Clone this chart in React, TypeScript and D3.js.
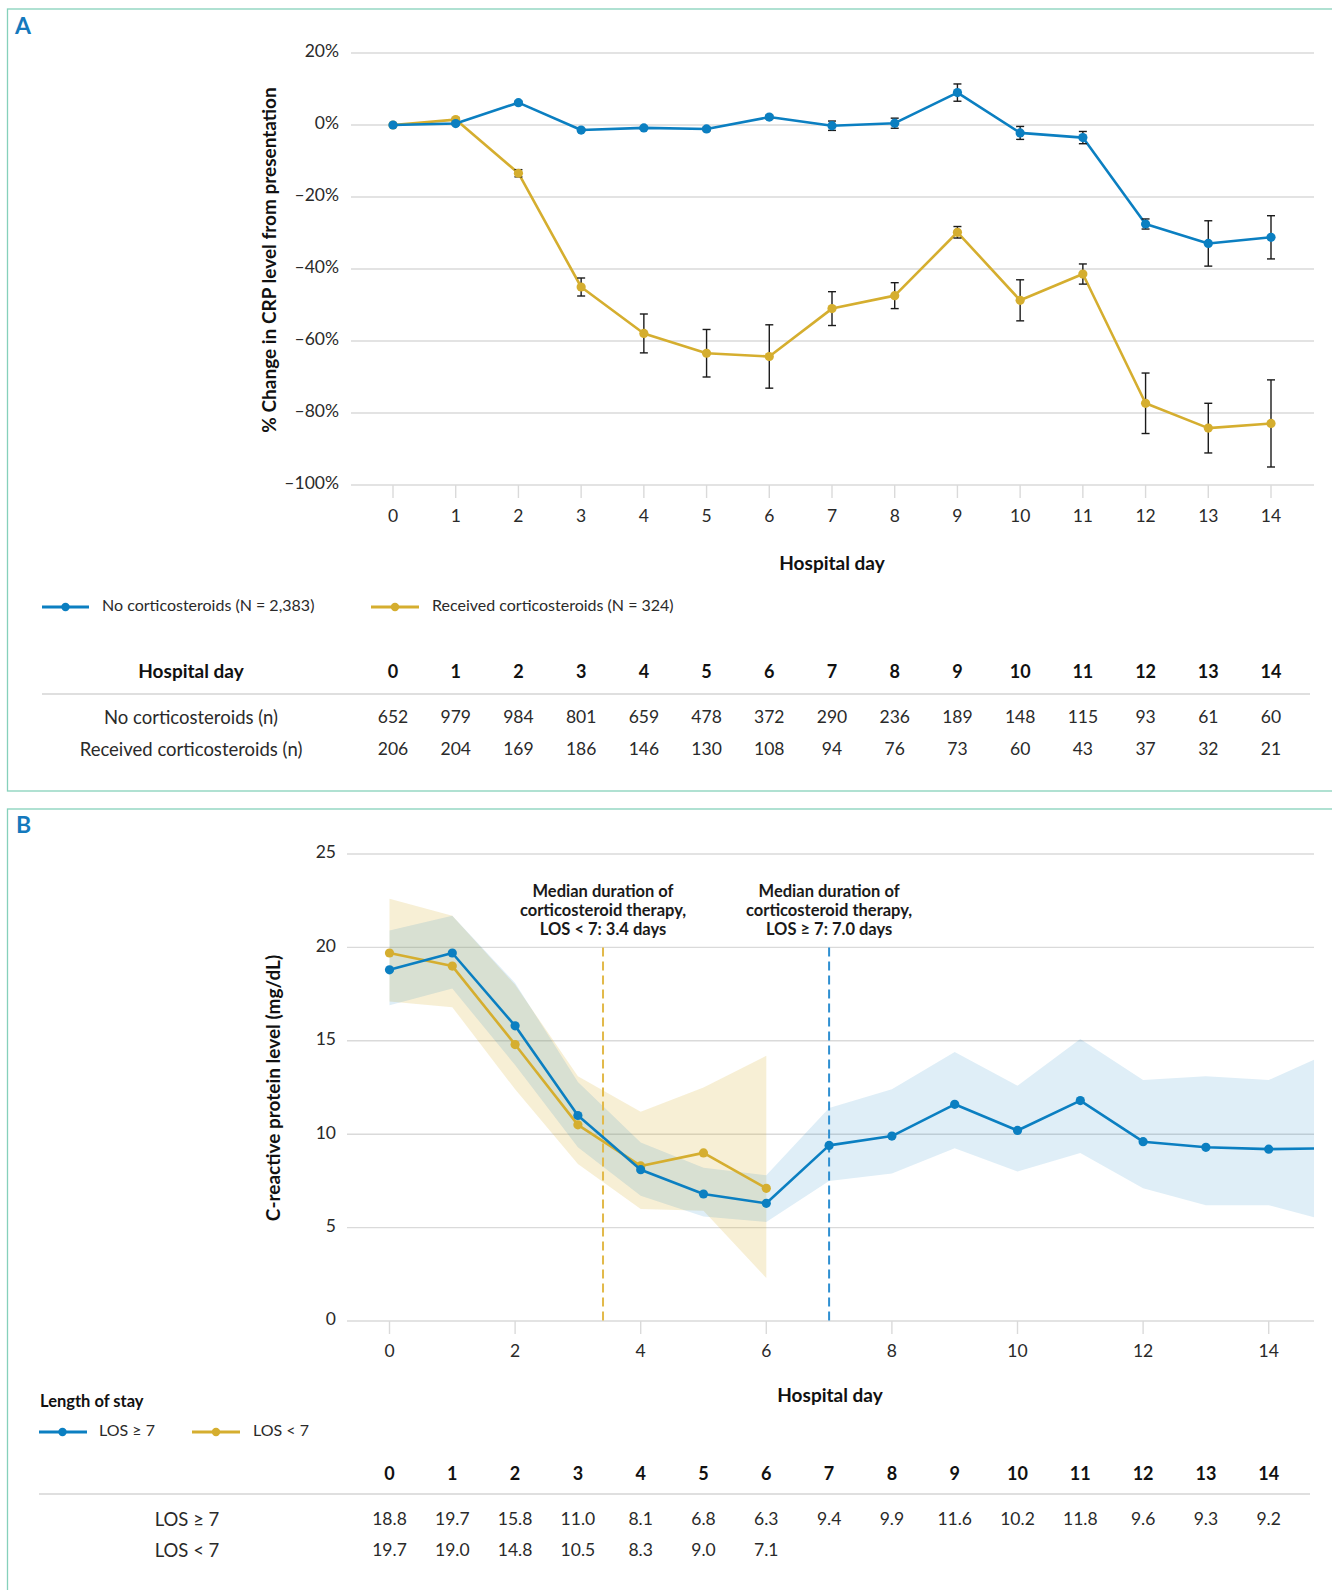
import * as d3 from "d3";

// ---- Panel A: % change in CRP from presentation ----
const DAYS = [0, 1, 2, 3, 4, 5, 6, 7, 8, 9, 10, 11, 12, 13, 14];
const PCT_TICKS = [20, 0, -20, -40, -60, -80, -100];

const noSteroidPct = [0, 0.4, 6.2, -1.4, -0.8, -1.1, 2.2, -0.2, 0.5, 9.0, -2.2, -3.5, -27.5, -32.9, -31.2];
const noSteroidErr = [0.3, 0.3, 0.4, 0.4, 0.4, 0.5, 0.5, 1.3, 1.4, 2.4, 1.8, 1.7, 1.4, 6.3, 6.0];
const steroidPct = [0, 1.5, -13.4, -45.0, -57.9, -63.4, -64.3, -51.0, -47.4, -29.8, -48.7, -41.4, -77.3, -84.2, -82.9];
const steroidErr = [0.3, 0.4, 1.0, 2.5, 5.4, 6.6, 8.8, 4.7, 3.6, 1.6, 5.7, 2.8, 8.4, 6.9, 12.1];

const noSteroidN = [652, 979, 984, 801, 659, 478, 372, 290, 236, 189, 148, 115, 93, 61, 60];
const steroidN = [206, 204, 169, 186, 146, 130, 108, 94, 76, 73, 60, 43, 37, 32, 21];

// ---- Panel B: CRP level by length of stay ----
const CRP_TICKS = [0, 5, 10, 15, 20, 25];
const DAY_TICKS_B = [0, 2, 4, 6, 8, 10, 12, 14];
const DAYS_LONG = [0, 1, 2, 3, 4, 5, 6, 7, 8, 9, 10, 11, 12, 13, 14, 15];
const DAYS_SHORT = [0, 1, 2, 3, 4, 5, 6];

const losLong = [18.8, 19.7, 15.8, 11.0, 8.1, 6.8, 6.3, 9.4, 9.9, 11.6, 10.2, 11.8, 9.6, 9.3, 9.2, 9.25];
const losLongLo = [16.9, 17.8, 13.7, 9.3, 6.7, 5.6, 5.3, 7.5, 7.9, 9.25, 8.0, 9.0, 7.1, 6.2, 6.2, 5.3];
const losLongHi = [20.9, 21.7, 18.1, 12.8, 9.55, 8.2, 7.8, 11.4, 12.4, 14.4, 12.6, 15.1, 12.9, 13.1, 12.9, 14.4];
const losShort = [19.7, 19.0, 14.8, 10.5, 8.3, 9.0, 7.1];
const losShortLo = [17.1, 16.8, 12.4, 8.4, 6.0, 5.9, 2.3];
const losShortHi = [22.6, 21.7, 18.0, 13.1, 11.2, 12.5, 14.2];

const losLongTable = ["18.8", "19.7", "15.8", "11.0", "8.1", "6.8", "6.3", "9.4", "9.9", "11.6", "10.2", "11.8", "9.6", "9.3", "9.2"];
const losShortTable = ["19.7", "19.0", "14.8", "10.5", "8.3", "9.0", "7.1"];

const medianShort = 3.4;
const medianLong = 7.0;

const BLUE = "#0b7fc1";
const GOLD = "#d5ae2f";
const GRID = "#dadada";
const FRAME = "#86d1bb";
const TEXT = "#2a2a2a";
const FONT = "Lato, 'Open Sans', sans-serif";

const REG = 400;
const FS = 17.5; // regular labels
const FS_TITLE = 19; // bold axis titles / headers

type Pt = { d: number; v: number };

export default function App() {
  // panel A scales
  const xA = d3.scaleLinear().domain([0, 14]).range([393, 1271]);
  const yA = d3.scaleLinear().domain([-100, 20]).range([485, 53]);
  const gridLeftA = 351;
  const gridRight = 1314;

  // panel B scales
  const xB = d3.scaleLinear().domain([0, 14]).range([389.5, 1268.7]);
  const yB = d3.scaleLinear().domain([0, 25]).range([1321, 854]);
  const gridLeftB = 347;

  const lineA = d3
    .line<Pt>()
    .x((p) => xA(p.d))
    .y((p) => yA(p.v));
  const lineB = d3
    .line<Pt>()
    .x((p) => xB(p.d))
    .y((p) => yB(p.v));
  const areaB = d3
    .area<{ d: number; lo: number; hi: number }>()
    .x((p) => xB(p.d))
    .y0((p) => yB(p.lo))
    .y1((p) => yB(p.hi));

  const seriesA = [
    { name: "steroid", color: GOLD, vals: steroidPct, err: steroidErr },
    { name: "none", color: BLUE, vals: noSteroidPct, err: noSteroidErr },
  ];

  const fmtPct = (v: number) => (v < 0 ? `\u2013${Math.abs(v)}%` : `${v}%`);

  const shortPts = DAYS_SHORT.map((d, i) => ({ d, v: losShort[i] }));
  const longPts = DAYS_LONG.map((d, i) => ({ d, v: losLong[i] }));
  const shortBand = DAYS_SHORT.map((d, i) => ({ d, lo: losShortLo[i], hi: losShortHi[i] }));
  const longBand = DAYS_LONG.map((d, i) => ({ d, lo: losLongLo[i], hi: losLongHi[i] }));

  const annotations = [
    { day: medianShort, color: "#e2b94a", lines: ["Median duration of", "corticosteroid therapy,", "LOS < 7: 3.4 days"] },
    { day: medianLong, color: "#2e8fd1", lines: ["Median duration of", "corticosteroid therapy,", "LOS \u2265 7: 7.0 days"] },
  ];

  return (
    <svg
      width={1332}
      height={1590}
      style={{ position: "absolute", left: 0, top: 0, display: "block", background: "#fff" }}
      fontFamily={FONT}
    >
      <defs>
        <clipPath id="plotB">
          <rect x={gridLeftB} y={800} width={gridRight - gridLeftB} height={560} />
        </clipPath>
      </defs>

      {/* Panel frames */}
      <rect x={7.5} y={9} width={1340} height={782} fill="none" stroke={FRAME} strokeWidth={1.3} />
      <rect x={7.5} y={809} width={1340} height={800} fill="none" stroke={FRAME} strokeWidth={1.3} />

      {/* ================= Panel A ================= */}
      <text x={15} y={34} fontSize={23} fontWeight={700} fill="#1479bd">A</text>

      {PCT_TICKS.map((t) => (
        <g key={t}>
          <line x1={gridLeftA} x2={gridRight} y1={yA(t)} y2={yA(t)} stroke={GRID} strokeWidth={1.4} />
          <text
            x={339}
            y={yA(t)}
            textAnchor="end"
            dominantBaseline="middle"
            fontSize={FS}
            fontWeight={REG}
            fill={TEXT}
          >
            {fmtPct(t)}
          </text>
        </g>
      ))}

      {DAYS.map((d) => (
        <g key={d}>
          <line x1={xA(d)} x2={xA(d)} y1={yA(-100)} y2={yA(-100) + 13} stroke={GRID} strokeWidth={1.4} />
          <text x={xA(d)} y={518} textAnchor="middle" dominantBaseline="middle" fontSize={FS} fontWeight={REG} fill={TEXT}>
            {d}
          </text>
        </g>
      ))}

      <text x={832} y={565} textAnchor="middle" dominantBaseline="middle" fontSize={FS_TITLE} fontWeight={700} fill="#111">
        Hospital day
      </text>
      <text
        transform={`translate(271, 260) rotate(-90)`}
        textAnchor="middle"
        dominantBaseline="middle"
        fontSize={FS_TITLE}
        fontWeight={700}
        fill="#111"
      >
        % Change in CRP level from presentation
      </text>

      {seriesA.map((s) => (
        <g key={s.name}>
          <path
            d={lineA(DAYS.map((d, i) => ({ d, v: s.vals[i] }))) || ""}
            fill="none"
            stroke={s.color}
            strokeWidth={2.6}
            strokeLinejoin="round"
          />
          {DAYS.map((d, i) => {
            const x = xA(d);
            const top = yA(s.vals[i] + s.err[i]);
            const bot = yA(s.vals[i] - s.err[i]);
            return (
              <g key={d} stroke="#1b1b1b" strokeWidth={1.4}>
                <line x1={x} x2={x} y1={top} y2={bot} />
                <line x1={x - 4} x2={x + 4} y1={top} y2={top} />
                <line x1={x - 4} x2={x + 4} y1={bot} y2={bot} />
              </g>
            );
          })}
          {DAYS.map((d, i) => (
            <circle key={d} cx={xA(d)} cy={yA(s.vals[i])} r={4.6} fill={s.color} />
          ))}
        </g>
      ))}

      {/* legend A */}
      <g fontSize={16} fontWeight={REG} fill={TEXT}>
        <line x1={42} x2={89} y1={607} y2={607} stroke={BLUE} strokeWidth={3} />
        <circle cx={65.5} cy={607} r={4.2} fill={BLUE} />
        <text x={102} y={607} dominantBaseline="middle">No corticosteroids (N = 2,383)</text>
        <line x1={371} x2={419} y1={607} y2={607} stroke={GOLD} strokeWidth={3} />
        <circle cx={395} cy={607} r={4.2} fill={GOLD} />
        <text x={432} y={607} dominantBaseline="middle">Received corticosteroids (N = 324)</text>
      </g>

      {/* table A */}
      <text x={191} y={673} textAnchor="middle" dominantBaseline="middle" fontSize={FS_TITLE} fontWeight={700} fill="#111">
        Hospital day
      </text>
      {DAYS.map((d) => (
        <text key={d} x={xA(d)} y={673} textAnchor="middle" dominantBaseline="middle" fontSize={18} fontWeight={700} fill="#111">
          {d}
        </text>
      ))}
      <line x1={42} x2={1310} y1={694} y2={694} stroke="#d4d4d4" strokeWidth={1.6} />
      <text x={191} y={719} textAnchor="middle" dominantBaseline="middle" fontSize={18.5} fontWeight={REG} fill={TEXT}>
        No corticosteroids (n)
      </text>
      <text x={191} y={751} textAnchor="middle" dominantBaseline="middle" fontSize={18.5} fontWeight={REG} fill={TEXT}>
        Received corticosteroids (n)
      </text>
      {DAYS.map((d, i) => (
        <g key={d} fontSize={FS} fontWeight={REG} fill={TEXT}>
          <text x={xA(d)} y={719} textAnchor="middle" dominantBaseline="middle">{noSteroidN[i]}</text>
          <text x={xA(d)} y={751} textAnchor="middle" dominantBaseline="middle">{steroidN[i]}</text>
        </g>
      ))}

      {/* ================= Panel B ================= */}
      <text x={16} y={833} fontSize={23} fontWeight={700} fill="#1479bd">B</text>

      {CRP_TICKS.map((t) => (
        <g key={t}>
          <line x1={gridLeftB} x2={gridRight} y1={yB(t)} y2={yB(t)} stroke={GRID} strokeWidth={1.4} />
          <text x={336} y={yB(t)} textAnchor="end" dominantBaseline="middle" fontSize={FS} fontWeight={REG} fill={TEXT}>
            {t}
          </text>
        </g>
      ))}
      {DAY_TICKS_B.map((d) => (
        <g key={d}>
          <line x1={xB(d)} x2={xB(d)} y1={yB(0)} y2={yB(0) + 13} stroke={GRID} strokeWidth={1.4} />
          <text x={xB(d)} y={1353} textAnchor="middle" dominantBaseline="middle" fontSize={FS} fontWeight={REG} fill={TEXT}>
            {d}
          </text>
        </g>
      ))}
      <text x={830} y={1397} textAnchor="middle" dominantBaseline="middle" fontSize={FS_TITLE} fontWeight={700} fill="#111">
        Hospital day
      </text>
      <text
        transform={`translate(275, 1088) rotate(-90)`}
        textAnchor="middle"
        dominantBaseline="middle"
        fontSize={FS_TITLE}
        fontWeight={700}
        fill="#111"
      >
        C-reactive protein level (mg/dL)
      </text>

      <g clipPath="url(#plotB)">
        <path d={areaB(shortBand) || ""} fill={GOLD} fillOpacity={0.2} />
        <path d={areaB(longBand) || ""} fill={BLUE} fillOpacity={0.13} />
      </g>

      {annotations.map((a) => (
        <g key={a.day}>
          <line
            x1={xB(a.day)}
            x2={xB(a.day)}
            y1={yB(20)}
            y2={yB(0)}
            stroke={a.color}
            strokeWidth={2}
            strokeDasharray="9 5"
          />
          {a.lines.map((l, i) => (
            <text
              key={i}
              x={xB(a.day)}
              y={893 + i * 19}
              textAnchor="middle"
              dominantBaseline="middle"
              fontSize={16.5}
              fontWeight={700}
              fill="#1a1a1a"
            >
              {l}
            </text>
          ))}
        </g>
      ))}

      <g clipPath="url(#plotB)">
        <path d={lineB(shortPts) || ""} fill="none" stroke={GOLD} strokeWidth={2.6} strokeLinejoin="round" />
        {shortPts.map((p) => (
          <circle key={p.d} cx={xB(p.d)} cy={yB(p.v)} r={4.6} fill={GOLD} />
        ))}
        <path d={lineB(longPts) || ""} fill="none" stroke={BLUE} strokeWidth={2.6} strokeLinejoin="round" />
        {longPts.slice(0, 15).map((p) => (
          <circle key={p.d} cx={xB(p.d)} cy={yB(p.v)} r={4.6} fill={BLUE} />
        ))}
      </g>

      {/* legend B */}
      <text x={40} y={1403} dominantBaseline="middle" fontSize={16.5} fontWeight={700} fill="#111">
        Length of stay
      </text>
      <g fontSize={16} fontWeight={REG} fill={TEXT}>
        <line x1={39} x2={87} y1={1432} y2={1432} stroke={BLUE} strokeWidth={3} />
        <circle cx={62.5} cy={1432} r={4.2} fill={BLUE} />
        <text x={99} y={1432} dominantBaseline="middle">LOS {"\u2265"} 7</text>
        <line x1={192} x2={240} y1={1432} y2={1432} stroke={GOLD} strokeWidth={3} />
        <circle cx={216} cy={1432} r={4.2} fill={GOLD} />
        <text x={253} y={1432} dominantBaseline="middle">LOS {"<"} 7</text>
      </g>

      {/* table B */}
      {DAYS.map((d) => (
        <text key={d} x={xB(d)} y={1475} textAnchor="middle" dominantBaseline="middle" fontSize={18} fontWeight={700} fill="#111">
          {d}
        </text>
      ))}
      <line x1={39} x2={1310} y1={1494} y2={1494} stroke="#d4d4d4" strokeWidth={1.6} />
      <text x={187} y={1521} textAnchor="middle" dominantBaseline="middle" fontSize={18.5} fontWeight={REG} fill={TEXT}>
        LOS {"\u2265"} 7
      </text>
      <text x={187} y={1552} textAnchor="middle" dominantBaseline="middle" fontSize={18.5} fontWeight={REG} fill={TEXT}>
        LOS {"<"} 7
      </text>
      {DAYS.map((d, i) => (
        <text key={d} x={xB(d)} y={1521} textAnchor="middle" dominantBaseline="middle" fontSize={FS} fontWeight={REG} fill={TEXT}>
          {losLongTable[i]}
        </text>
      ))}
      {DAYS_SHORT.map((d, i) => (
        <text key={d} x={xB(d)} y={1552} textAnchor="middle" dominantBaseline="middle" fontSize={FS} fontWeight={REG} fill={TEXT}>
          {losShortTable[i]}
        </text>
      ))}
    </svg>
  );
}
